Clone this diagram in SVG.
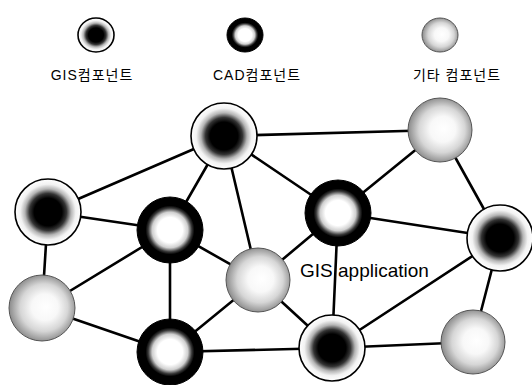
<svg xmlns="http://www.w3.org/2000/svg" width="532" height="385" viewBox="0 0 532 385">
  <defs>
    <!-- GIS component: white disc with a dark fuzzy core -->
    <radialGradient id="gisCore" cx="0.5" cy="0.5" r="0.5">
      <stop offset="0" stop-color="#000"/>
      <stop offset="0.42" stop-color="#000"/>
      <stop offset="0.56" stop-color="#333"/>
      <stop offset="0.7" stop-color="#b5b5b5"/>
      <stop offset="0.84" stop-color="#f2f2f2"/>
      <stop offset="1" stop-color="#fff"/>
    </radialGradient>
    <!-- CAD component: thick black ring fading to a white centre -->
    <radialGradient id="cadRing" cx="0.5" cy="0.5" r="0.5">
      <stop offset="0" stop-color="#fff"/>
      <stop offset="0.38" stop-color="#fff"/>
      <stop offset="0.54" stop-color="#d0d0d0"/>
      <stop offset="0.66" stop-color="#3a3a3a"/>
      <stop offset="0.74" stop-color="#000"/>
      <stop offset="1" stop-color="#000"/>
    </radialGradient>
    <!-- other component: grey sphere, light in the middle -->
    <radialGradient id="otherBall" cx="0.52" cy="0.5" r="0.5" fx="0.56" fy="0.48">
      <stop offset="0" stop-color="#fff"/>
      <stop offset="0.4" stop-color="#f8f8f8"/>
      <stop offset="0.72" stop-color="#d6d6d6"/>
      <stop offset="1" stop-color="#939393"/>
    </radialGradient>
    <style>
      .gis { fill: url(#gisCore); stroke: #000; stroke-width: 1.6; }
      .cad { fill: url(#cadRing); stroke: #000; stroke-width: 1; }
      .other { fill: url(#otherBall); stroke: #555; stroke-width: 1; }
      .edge { stroke: #000; stroke-width: 2.6; stroke-linecap: round; }
      .legend { font-family: "Liberation Sans", "Noto Sans CJK KR", sans-serif; font-size: 14px; fill: #000; text-anchor: middle; letter-spacing: 1px; }
      .app { font-family: "Liberation Sans", "Noto Sans CJK KR", sans-serif; font-size: 19px; fill: #000; }
    </style>
  </defs>

  <rect width="532" height="385" fill="#fff"/>

  <!-- legend -->
  <g id="legend-gis">
    <ellipse class="gis" cx="96" cy="35" rx="18" ry="17"/>
    <text class="legend" x="92" y="80">GIS컴포넌트</text>
  </g>
  <g id="legend-cad">
    <ellipse class="cad" cx="245" cy="35" rx="18" ry="17"/>
    <text class="legend" x="257" y="80">CAD컴포넌트</text>
  </g>
  <g id="legend-other">
    <ellipse class="other" cx="440" cy="35" rx="18" ry="17"/>
    <text class="legend" x="457" y="80">기타 컴포넌트</text>
  </g>

  <!-- connectors -->
  <g id="connectors" class="edge">
    <line x1="224" y1="136" x2="440" y2="130"/>
    <line x1="224" y1="136" x2="48" y2="212"/>
    <line x1="224" y1="136" x2="170" y2="230"/>
    <line x1="224" y1="136" x2="338" y2="213"/>
    <line x1="224" y1="136" x2="258" y2="280"/>
    <line x1="440" y1="130" x2="338" y2="213"/>
    <line x1="440" y1="130" x2="500" y2="238"/>
    <line x1="48" y1="212" x2="170" y2="230"/>
    <line x1="48" y1="212" x2="42" y2="308"/>
    <line x1="170" y1="230" x2="258" y2="280"/>
    <line x1="170" y1="230" x2="42" y2="308"/>
    <line x1="170" y1="230" x2="170" y2="352"/>
    <line x1="338" y1="213" x2="500" y2="238"/>
    <line x1="338" y1="213" x2="258" y2="280"/>
    <line x1="338" y1="213" x2="332" y2="348"/>
    <line x1="500" y1="238" x2="332" y2="348"/>
    <line x1="500" y1="238" x2="473" y2="342"/>
    <line x1="258" y1="280" x2="170" y2="352"/>
    <line x1="258" y1="280" x2="332" y2="348"/>
    <line x1="42" y1="308" x2="170" y2="352"/>
    <line x1="170" y1="352" x2="332" y2="348"/>
    <line x1="332" y1="348" x2="473" y2="342"/>
  </g>

  <!-- components -->
  <g id="n1"><circle class="gis" cx="224" cy="136" r="33"/></g>
  <g id="n2"><circle class="other" cx="440" cy="130" r="32"/></g>
  <g id="n3"><circle class="gis" cx="48" cy="212" r="33"/></g>
  <g id="n4"><circle class="cad" cx="170" cy="230" r="33"/></g>
  <g id="n5"><circle class="cad" cx="338" cy="213" r="33"/></g>
  <g id="n6"><circle class="gis" cx="500" cy="238" r="33"/></g>
  <g id="n7"><circle class="other" cx="258" cy="280" r="32"/></g>
  <g id="n8"><circle class="other" cx="42" cy="308" r="33"/></g>
  <g id="n9"><circle class="cad" cx="170" cy="352" r="33"/></g>
  <g id="n10"><circle class="gis" cx="332" cy="348" r="33"/></g>
  <g id="n11"><circle class="other" cx="473" cy="342" r="32"/></g>

  <text class="app" x="300" y="277">GIS application</text>
</svg>
